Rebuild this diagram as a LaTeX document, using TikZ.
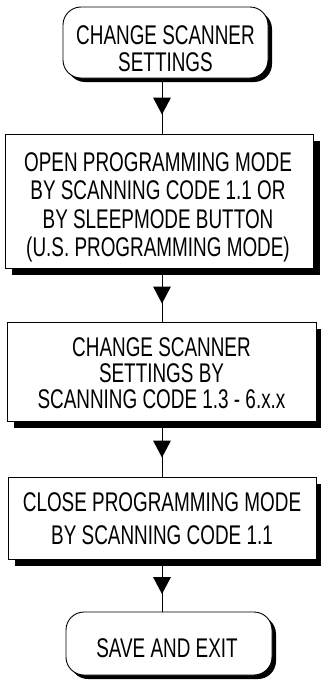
\documentclass[tikz,border=0pt]{standalone}
\usepackage{fontspec}
\setmainfont{Liberation Sans}[FakeStretch=0.70]
\usetikzlibrary{decorations.markings,shadows}
\begin{document}
\begin{tikzpicture}[x=1pt,y=-1pt,
  box/.style={draw=black, line width=0.9pt, fill=white, inner sep=0pt,
    drop shadow={shadow xshift=7pt, shadow yshift=-7pt, opacity=1, fill=black}},
  term/.style={draw=black, line width=0.9pt, fill=white, inner sep=0pt,
    rounded corners=18pt,
    drop shadow={shadow xshift=4pt, shadow yshift=-4pt, opacity=1, fill=black}},
  lbl/.style={align=center, inner sep=0pt},
  conn/.style={draw, line width=0.8pt, postaction={decorate},
    decoration={markings, mark=at position 0.5 with {\fill (8.5pt,0pt) -- (-8.5pt,9pt) -- (-8.5pt,-9pt) -- cycle;}}}
]
\useasboundingbox (0,0) rectangle (321,681);
\coordinate (ax) at (162,0);
% shapes
\node[term, minimum width=205pt, minimum height=71pt] (n1) at (165.5,42.5) {};
\node[box, minimum width=308pt, minimum height=134pt] (n2) at (159,201) {};
\node[box, minimum width=309pt, minimum height=99pt] (n3) at (161.5,371.5) {};
\node[box, minimum width=308pt, minimum height=82pt] (n4) at (162,518) {};
\node[term, minimum width=206pt, minimum height=63pt] (n5) at (169,643.5) {};
% texts
\node[lbl, font=\fontsize{27}{26.7}\selectfont] (t1) at (165.5,49) {CHANGE SCANNER\\SETTINGS};
\node[lbl, font=\fontsize{27}{28.3}\selectfont] (t2) at (158,207.5) {OPEN PROGRAMMING MODE\\BY SCANNING CODE 1.1 OR\\BY SLEEPMODE BUTTON\\(U.S. PROGRAMMING MODE)};
\node[lbl, font=\fontsize{27}{25.7}\selectfont] (t3) at (161.5,373) {CHANGE SCANNER\\SETTINGS BY\\SCANNING CODE 1.3 - 6.x.x};
\node[lbl, font=\fontsize{27}{33.3}\selectfont] (t4) at (162,519) {CLOSE PROGRAMMING MODE\\BY SCANNING CODE 1.1};
\node[lbl, font=\fontsize{27}{26}\selectfont] (t5) at (167,648.5) {SAVE AND EXIT};
% connectors
\draw[conn] (n1.south -| ax) -- (n2.north -| ax);
\draw[conn] (n2.south -| ax) -- (n3.north -| ax);
\draw[conn] (n3.south -| ax) -- (n4.north -| ax);
\draw[conn] (n4.south -| ax) -- (n5.north -| ax);
\end{tikzpicture}
\end{document}
